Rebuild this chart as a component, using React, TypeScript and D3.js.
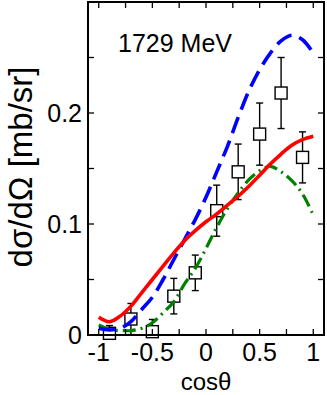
import React from 'react';
import * as d3 from 'd3';

// model curves, sampled on a cos(theta) grid
const cosGrid = [-1, -0.9, -0.8, -0.7, -0.6, -0.5, -0.4, -0.3, -0.2, -0.1, 0, 0.1, 0.2, 0.3, 0.4, 0.5, 0.6, 0.7, 0.8, 0.9, 1];
const redCurve = [0.016, 0.012, 0.017, 0.026, 0.038, 0.05, 0.062, 0.074, 0.085, 0.094, 0.102, 0.109, 0.117, 0.125, 0.134, 0.144, 0.154, 0.163, 0.171, 0.176, 0.179];
const blueCurve = [0.006, 0.0045, 0.006, 0.012, 0.023, 0.034, 0.05, 0.068, 0.086, 0.104, 0.124, 0.147, 0.17, 0.196, 0.22, 0.239, 0.254, 0.265, 0.27, 0.266, 0.254];
const greenCurve = [0.009, 0.005, 0.004, 0.004, 0.006, 0.011, 0.02, 0.03, 0.046, 0.06, 0.078, 0.097, 0.114, 0.128, 0.14, 0.148, 0.152, 0.147, 0.139, 0.127, 0.108];

// measured points
const dataCos = [-0.9, -0.7, -0.5, -0.3, -0.1, 0.1, 0.3, 0.5, 0.7, 0.9];
const dataVal = [0.0015, 0.0144, 0.003, 0.035, 0.056, 0.112, 0.147, 0.181, 0.218, 0.16];
const dataErr = [0.007, 0.014, 0.011, 0.016, 0.016, 0.023, 0.025, 0.028, 0.032, 0.023];

const xTickLabels = [-1, -0.5, 0, 0.5, 1];
const yTickLabels = [0, 0.1, 0.2];
const xMinor = [-1, -0.75, -0.5, -0.25, 0, 0.25, 0.5, 0.75, 1];
const yMinor = [0.05, 0.1, 0.15, 0.2, 0.25];

const W = 327;
const H = 395;
const left = 88, right = 324, top = 2, bottom = 335;
const font = '"Liberation Sans", Arial, Helvetica, sans-serif';

export default function App() {
  const x = d3.scaleLinear().domain([-1.1, 1.1]).range([left, right]);
  const y = d3.scaleLinear().domain([0, 0.3]).range([bottom, top]);

  const line = (vals: number[]) =>
    d3
      .line<number>()
      .x((d, i) => x(cosGrid[i]))
      .y((d) => y(d))
      .curve(d3.curveCatmullRom.alpha(0.5))(vals) || '';

  const tick = 6;
  const sq = 12;
  const cap = 3.5;

  return (
    <svg width={W} height={H} style={{ position: 'absolute', left: 0, top: 0 }} fontFamily={font}>
      <rect x={0} y={0} width={W} height={H} fill="#fff" />

      {/* data points */}
      {dataCos.map((c, i) => {
        const cx = x(c);
        const cy = y(dataVal[i]);
        const y1 = y(dataVal[i] + dataErr[i]);
        const y0 = y(Math.max(0, dataVal[i] - dataErr[i]));
        return (
          <g key={i} stroke="#000" strokeWidth={1.4}>
            <line x1={cx} x2={cx} y1={y1} y2={y0} />
            <line x1={cx - cap} x2={cx + cap} y1={y1} y2={y1} />
            <line x1={cx - cap} x2={cx + cap} y1={y0} y2={y0} />
            <rect x={cx - sq / 2} y={cy - sq / 2} width={sq} height={sq} fill="#fff" />
          </g>
        );
      })}

      {/* curves */}
      <path d={line(greenCurve)} fill="none" stroke="#008000" strokeWidth={3.2} strokeDasharray="13,5,2,5" />
      <path d={line(blueCurve)} fill="none" stroke="#0000ff" strokeWidth={3.6} strokeDasharray="17,8" />
      <path d={line(redCurve)} fill="none" stroke="#ff0000" strokeWidth={3.6} />

      {/* frame */}
      <rect x={left} y={top} width={right - left} height={bottom - top} fill="none" stroke="#000" strokeWidth={2} />

      {/* ticks */}
      <g stroke="#000" strokeWidth={1.3}>
        {xMinor.map((t) => (
          <g key={'x' + t}>
            <line x1={x(t)} x2={x(t)} y1={bottom} y2={bottom - tick} />
            <line x1={x(t)} x2={x(t)} y1={top} y2={top + tick} />
          </g>
        ))}
        {yMinor.map((t) => (
          <g key={'y' + t}>
            <line x1={left} x2={left + tick} y1={y(t)} y2={y(t)} />
            <line x1={right} x2={right - tick} y1={y(t)} y2={y(t)} />
          </g>
        ))}
      </g>

      {/* tick labels */}
      <g fontSize={25} fill="#000">
        {xTickLabels.map((t) => (
          <text key={t} x={x(t)} y={361} textAnchor="middle">
            {t}
          </text>
        ))}
        {yTickLabels.map((t) => (
          <text key={t} x={82} y={y(t) + 9} textAnchor="end">
            {t}
          </text>
        ))}
      </g>

      <text x={206} y={390} textAnchor="middle" fontSize={24}>
        cosθ
      </text>
      <text transform="translate(32,167) rotate(-90)" textAnchor="middle" fontSize={33}>
        dσ/dΩ [mb/sr]
      </text>
      <text x={118} y={52} fontSize={25}>
        1729 MeV
      </text>
    </svg>
  );
}
